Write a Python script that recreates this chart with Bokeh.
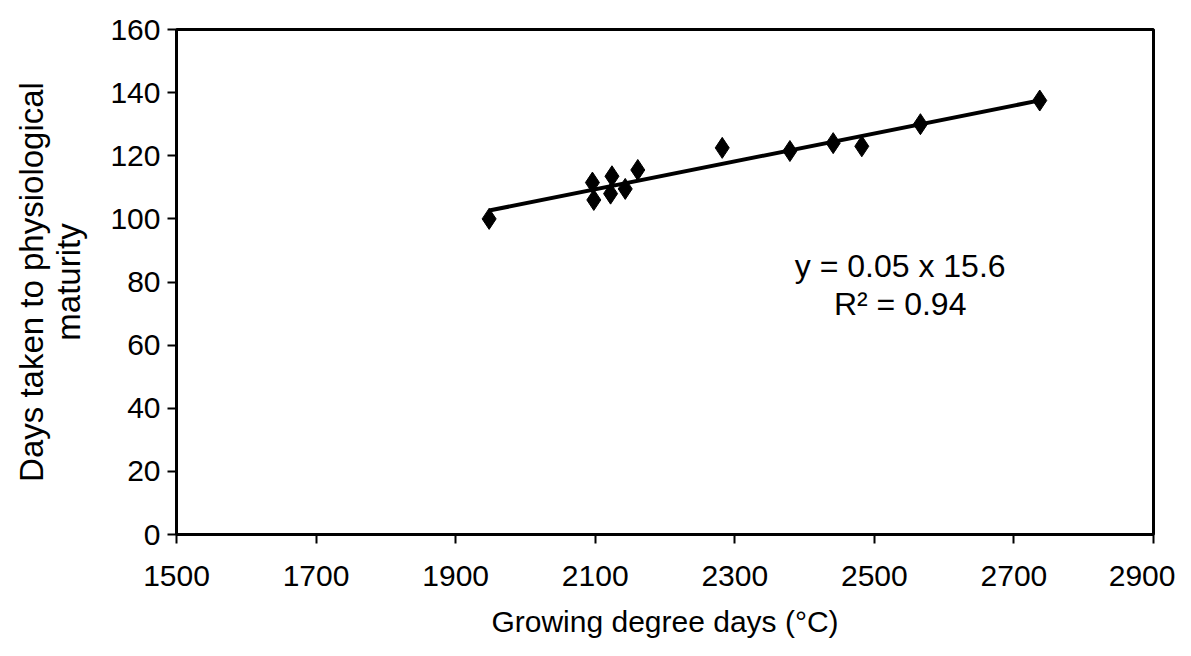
import numpy as np
from bokeh.plotting import figure
from bokeh.models import Range1d, FixedTicker, Label
from bokeh.embed import file_html
from bokeh.resources import INLINE

gdd = [1948, 2096, 2098, 2122, 2124, 2143, 2161, 2282, 2379, 2441, 2482, 2566, 2737]
days = [100, 111.5, 106, 108, 113.5, 109.5, 115.5, 122.5, 121.5, 124, 123, 130, 137.5]
x_ticks = [1500, 1700, 1900, 2100, 2300, 2500, 2700, 2900]
y_ticks = [0, 20, 40, 60, 80, 100, 120, 140, 160]
eq_text = "y = 0.05 x 15.6"
r2_text = "R\u00b2 = 0.94"
x_title = "Growing degree days (\u00b0C)"
y_title = "Days taken to physiological\nmaturity"

FONT = "Liberation Sans"

p = figure(width=1175, height=640, output_backend="svg", toolbar_location=None,
           x_range=Range1d(1500, 2900), y_range=Range1d(0, 160))
p.min_border_left = 176
p.min_border_right = 22
p.min_border_top = 29
p.min_border_bottom = 106
p.grid.visible = False
p.outline_line_color = "black"
p.outline_line_width = 3

for ax in (p.xaxis[0], p.yaxis[0]):
    ax.axis_line_width = 3
    ax.axis_line_color = "black"
    ax.major_tick_line_width = 2
    ax.major_tick_line_color = "black"
    ax.major_tick_out = 9
    ax.major_tick_in = 0
    ax.minor_tick_line_color = None
    ax.major_label_text_font = FONT
    ax.major_label_text_font_size = "30px"
    ax.major_label_text_color = "black"
    ax.axis_label_text_font = FONT
    ax.axis_label_text_font_style = "normal"
    ax.axis_label_text_color = "black"

p.xaxis.ticker = FixedTicker(ticks=x_ticks)
p.yaxis.ticker = FixedTicker(ticks=y_ticks)
p.xaxis.major_label_standoff = 22
p.yaxis.major_label_standoff = 7
p.xaxis.axis_label = x_title
p.yaxis.axis_label = y_title
p.xaxis.axis_label_text_font_size = "30px"
p.yaxis.axis_label_text_font_size = "33px"
p.yaxis.axis_label_text_line_height = 1.0
p.xaxis.axis_label_standoff = 16
p.yaxis.axis_label_standoff = 20

# trend line fitted from the data
k, b = np.polyfit(gdd, days, 1)
xl = [min(gdd), max(gdd)]
p.line(xl, [k * v + b for v in xl], line_color="black", line_width=4)

p.scatter(gdd, days, marker="diamond", size=21, fill_color="black", line_color="black")

p.add_layout(Label(x=2537, y=85, text=eq_text, text_align="center", text_baseline="middle",
                   text_font=FONT, text_font_size="32px", text_color="black"))
p.add_layout(Label(x=2537, y=73, text=r2_text, text_align="center", text_baseline="middle",
                   text_font=FONT, text_font_size="32px", text_color="black"))

open("out.html", "w").write(file_html(p, INLINE))
